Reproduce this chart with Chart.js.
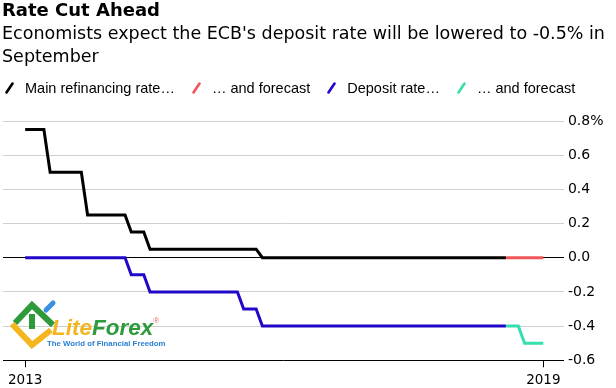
<!DOCTYPE html>
<html>
<head>
<meta charset="utf-8">
<script src="https://cdn.jsdelivr.net/npm/chart.js@4"></script>
<style>
  html, body { margin: 0; padding: 0; background: #fff; }
  #wrap { position: relative; width: 616px; height: 388px; overflow: hidden; }
  #chart { position: absolute; left: 0; top: 0; }
  .title { position: absolute; left: 2px; top: 1px; font: bold 18px/18px "DejaVu Sans", sans-serif; color: #000; white-space: nowrap; }
  .subtitle { position: absolute; left: 2px; top: 21.5px; font: 17.5px/23.4px "DejaVu Sans", sans-serif; color: #000; white-space: nowrap; }
  #legend { position: absolute; left: 5px; top: 79.7px; display: flex; font: 14.5px/16px "Liberation Sans", Arial, sans-serif; color: #000; white-space: nowrap; }
  #legend .item { display: inline-flex; align-items: center; margin-right: 17px; }
  #legend svg { margin-right: 11px; }
  .mark { position: absolute; left: 9px; top: 297px; }
  .brand { position: absolute; left: 52px; top: 317px; font: italic bold 22.5px/22px "Liberation Sans", Arial, sans-serif; white-space: nowrap; }
  .brand sup { font: 8px/8px "Liberation Sans", Arial, sans-serif; color: #e06a6a; vertical-align: top; font-style: normal; }
  .tagline { position: absolute; left: 47px; top: 340px; font: bold 7.8px/8px "Liberation Sans", Arial, sans-serif; color: #2a7fd4; white-space: nowrap; }
</style>
</head>
<body>
<div id="wrap">
  <canvas id="chart" width="616" height="388"></canvas>
  <div class="title">Rate Cut Ahead</div>
  <div class="subtitle">Economists expect the ECB's deposit rate will be lowered to -0.5% in<br>September</div>
  <div id="legend"></div>
  <svg class="mark" width="50" height="52" viewBox="0 0 50 52">
    <polyline points="6,26 23,8 44,28" fill="none" stroke="#2f9a3c" stroke-width="6"/>
    <line x1="23" y1="17" x2="23" y2="32" stroke="#2f9a3c" stroke-width="6"/>
    <polyline points="3,27 23,48 42,33" fill="none" stroke="#f3b61f" stroke-width="6"/>
    <line x1="37" y1="13" x2="44" y2="6" stroke="#3a8fe0" stroke-width="5" stroke-linecap="round"/>
  </svg>
  <div class="brand"><span style="color:#f3b61f">Lite</span><span style="color:#2f9a3c">Forex</span><sup>®</sup></div>
  <div class="tagline">The World of Financial Freedom</div>
</div>
<script>
// months counted from Jan 2013
const refiMonths = [0, 3, 4, 9, 10, 16, 17, 19, 20, 37, 38, 77];
const refiRates = [0.75, 0.75, 0.5, 0.5, 0.25, 0.25, 0.15, 0.15, 0.05, 0.05, 0, 0];
const refiForecastMonths = [77, 83];
const refiForecastRates = [0, 0];
const depositMonths = [0, 16, 17, 19, 20, 34, 35, 37, 38, 77];
const depositRates = [0, 0, -0.1, -0.1, -0.2, -0.2, -0.3, -0.3, -0.4, -0.4];
const depositForecastMonths = [77, 79, 80, 83];
const depositForecastRates = [-0.4, -0.4, -0.5, -0.5];

const tickMonths = [0, 83];
const tickLabels = ['2013', '2019'];

const seriesNames = ['Main refinancing rate…', '… and forecast', 'Deposit rate…', '… and forecast'];
const seriesColors = ['#000000', '#f25558', '#2108c9', '#35dfae'];

function points(months, values) {
  return months.map((m, i) => ({ x: m, y: values[i] }));
}

const seriesData = [
  points(refiMonths, refiRates),
  points(refiForecastMonths, refiForecastRates),
  points(depositMonths, depositRates),
  points(depositForecastMonths, depositForecastRates)
];

const datasets = seriesData.map((d, i) => ({
  label: seriesNames[i],
  data: d,
  borderColor: seriesColors[i],
  backgroundColor: seriesColors[i],
  borderWidth: 3,
  pointRadius: 0,
  tension: 0,
  fill: false
}));

// legend
const legend = document.getElementById('legend');
seriesNames.forEach((name, i) => {
  const item = document.createElement('span');
  item.className = 'item';
  item.innerHTML = '<svg width="9" height="12"><line x1="1.5" y1="10.5" x2="7.5" y2="1.5" stroke="' +
    seriesColors[i] + '" stroke-width="2.6" stroke-linecap="round"/></svg><span>' + name + '</span>';
  legend.appendChild(item);
});

const ctx = document.getElementById('chart').getContext('2d');
new Chart(ctx, {
  type: 'line',
  data: { datasets },
  options: {
    responsive: false,
    animation: false,
    layout: { padding: { top: 121, right: 8.5, bottom: -5.5, left: 3 } },
    plugins: {
      legend: { display: false },
      title: { display: false },
      tooltip: { enabled: false }
    },
    scales: {
      x: {
        type: 'linear',
        min: -3.55,
        max: 86.3,
        afterBuildTicks: axis => { axis.ticks = tickMonths.map(v => ({ value: v })); },
        grid: { drawOnChartArea: false, drawTicks: true, tickLength: 7, color: '#000', lineWidth: 1 },
        border: { display: true, color: '#000', width: 1 },
        ticks: {
          padding: 5,
          maxRotation: 0,
          autoSkip: false,
          color: '#000',
          font: { family: 'DejaVu Sans', size: 13.5 },
          callback: v => tickLabels[tickMonths.indexOf(v)]
        }
      },
      y: {
        position: 'right',
        min: -0.6,
        max: 0.8,
        grid: {
          drawTicks: false,
          lineWidth: 1,
          color: c => Math.abs(c.tick.value) < 1e-9 ? '#000' : '#cfcfcf'
        },
        border: { display: false },
        ticks: {
          stepSize: 0.2,
          padding: 4,
          color: '#000',
          font: { family: 'DejaVu Sans', size: 14 },
          callback: v => Math.abs(v - 0.8) < 1e-9 ? '0.8%' : v.toFixed(1)
        }
      }
    }
  }
});
</script>
</body>
</html>
